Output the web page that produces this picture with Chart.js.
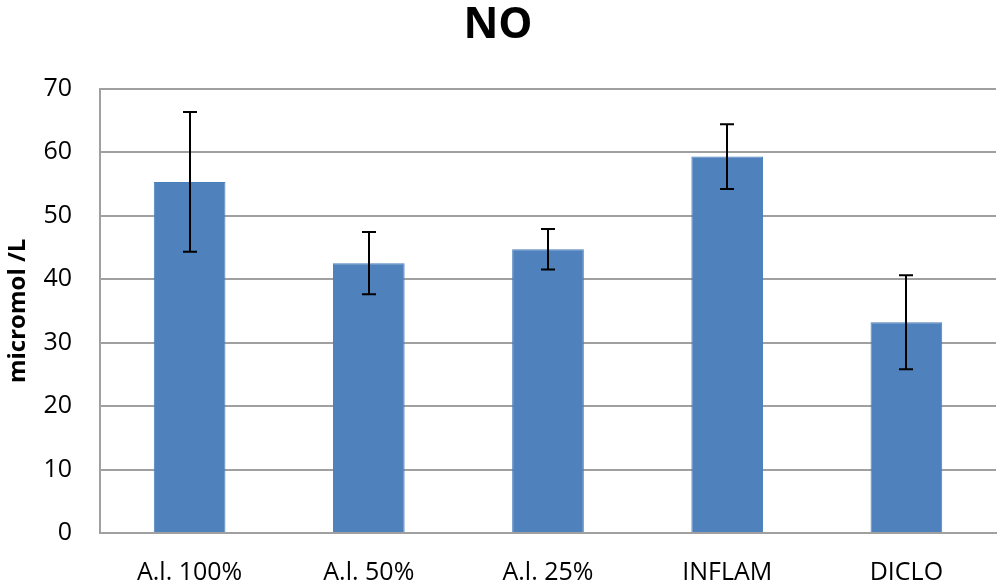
<!DOCTYPE html>
<html>
<head>
<meta charset="utf-8">
<script src="https://cdn.jsdelivr.net/npm/chart.js@4"></script>
<style>
html,body{margin:0;padding:0;background:#fff;}
#wrap{width:1000px;height:585px;}
</style>
</head>
<body>
<div id="wrap"><canvas id="c"></canvas></div>
<script>
const categories = ["A.l. 100%", "A.l. 50%", "A.l. 25%", "INFLAM", "DICLO"];
const values = [55.3, 42.5, 44.7, 59.3, 33.2];
const errors = [11.0, 4.9, 3.2, 5.1, 7.4];
const yTicks = [0, 10, 20, 30, 40, 50, 60, 70];

const FONT = "'Open Sans', Lato, sans-serif";

const errorBars = {
  id: 'errorBars',
  afterDatasetsDraw(chart) {
    const ctx = chart.ctx;
    const meta = chart.getDatasetMeta(0);
    const ys = chart.scales.y;
    ctx.save();
    ctx.strokeStyle = '#000';
    ctx.lineWidth = 2;
    meta.data.forEach((bar, i) => {
      const x = Math.round(bar.x);
      const top = ys.getPixelForValue(values[i] + errors[i]);
      const bot = ys.getPixelForValue(values[i] - errors[i]);
      const cap = 7;
      ctx.beginPath();
      ctx.moveTo(x, top); ctx.lineTo(x, bot);
      ctx.moveTo(x - cap, top); ctx.lineTo(x + cap, top);
      ctx.moveTo(x - cap, bot); ctx.lineTo(x + cap, bot);
      ctx.stroke();
    });
    ctx.restore();
  }
};

new Chart(document.getElementById('c'), {
  type: 'bar',
  data: {
    labels: categories,
    datasets: [{
      data: values,
      backgroundColor: '#4F81BD',
      borderColor: '#4A7EBB',
      borderWidth: 1,
      categoryPercentage: 1.0,
      barPercentage: 0.40
    }]
  },
  options: {
    responsive: true,
    maintainAspectRatio: false,
    animation: false,
    devicePixelRatio: 1,
    layout: { padding: { left: 0, right: 4, top: 0, bottom: 0 } },
    plugins: {
      legend: { display: false },
      tooltip: { enabled: false },
      title: {
        display: true,
        text: 'NO',
        color: '#000',
        font: { family: FONT, size: 43, weight: 'bold' },
        padding: { top: 0, bottom: 37 }
      }
    },
    scales: {
      x: {
        grid: { display: false, drawTicks: false },
        border: { display: true, color: '#A0A0A0', width: 2 },
        ticks: {
          color: '#000',
          font: { family: FONT, size: 25 },
          padding: 25,
          maxRotation: 0
        },
        afterFit(scale) { scale.height = 52; }
      },
      y: {
        min: 0,
        max: 70,
        afterBuildTicks(scale) { scale.ticks = yTicks.map(v => ({ value: v })); },
        grid: { color: '#A0A0A0', lineWidth: 2, drawTicks: false },
        border: { display: true, color: '#A0A0A0', width: 2 },
        ticks: {
          color: '#000',
          font: { family: FONT, size: 25 },
          padding: 28
        },
        title: {
          display: true,
          text: 'micromol /L',
          color: '#000',
          font: { family: FONT, size: 24, weight: 'bold' },
          padding: { top: 4, bottom: 0 }
        },
        afterFit(scale) { scale.width = 100; }
      }
    }
  },
  plugins: [errorBars]
});
</script>
</body>
</html>
